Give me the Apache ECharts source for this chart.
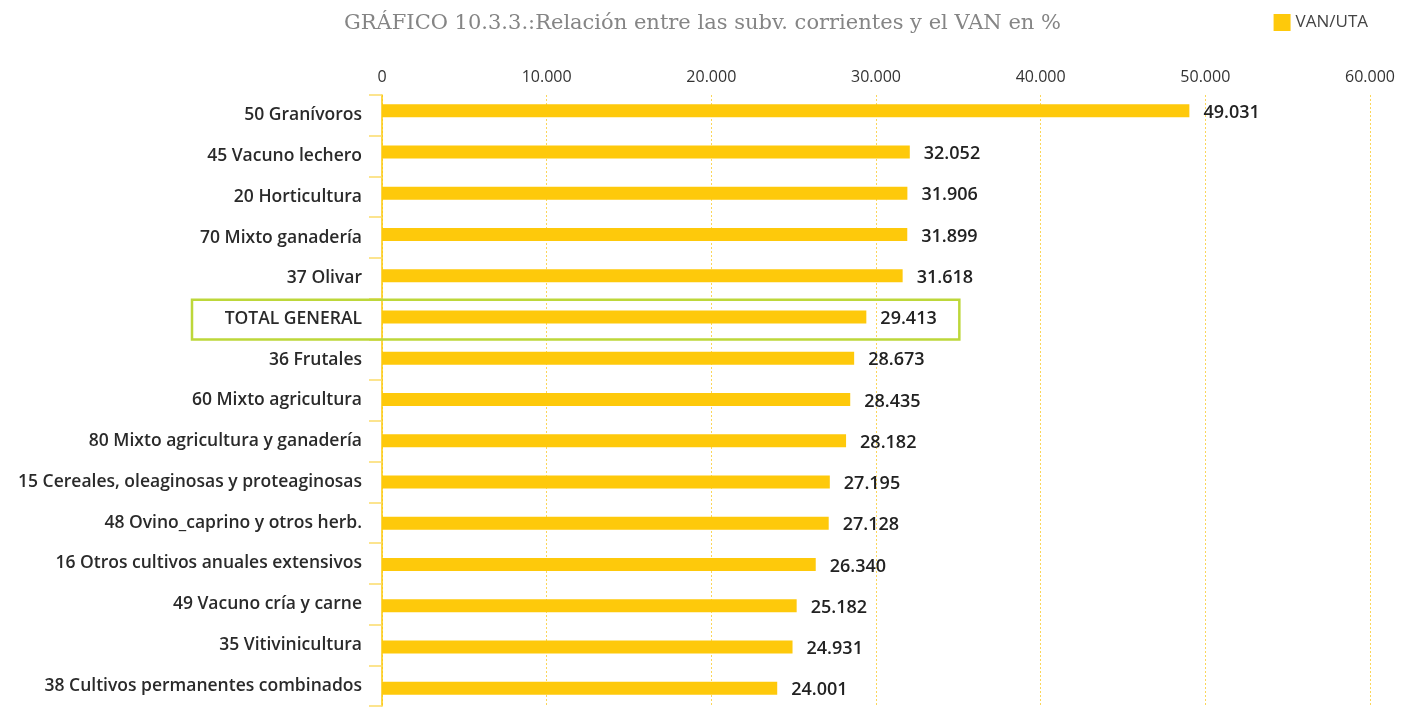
<!DOCTYPE html>
<html><head><meta charset="utf-8">
<script src="https://cdn.jsdelivr.net/npm/echarts@6/dist/echarts.min.js"></script>
<style>html,body{margin:0;padding:0;background:#fff}#c{width:1405px;height:709px}</style>
</head><body><div id="c"></div>
<script>
const categories = ["50 Granívoros","45 Vacuno lechero","20 Horticultura","70 Mixto ganadería","37 Olivar","TOTAL GENERAL","36 Frutales","60 Mixto agricultura","80 Mixto agricultura y ganadería","15 Cereales, oleaginosas y proteaginosas","48 Ovino_caprino y otros herb.","16 Otros cultivos anuales extensivos","49 Vacuno cría y carne","35 Vitivinicultura","38 Cultivos permanentes combinados"];
const vanUta = [49031,32052,31906,31899,31618,29413,28673,28435,28182,27195,27128,26340,25182,24931,24001];
const seriesName = "VAN/UTA";
const titleText = "GRÁFICO 10.3.3.:Relación entre las subv. corrientes y el VAN en %";
const highlightCategory = "TOTAL GENERAL";

const fmt = v => String(Math.round(v)).replace(/\B(?=(\d{3})+(?!\d))/g, ".");
const chart = echarts.init(document.getElementById('c'));
const option = {
  animation: false,
  title: { text: titleText, left: 'center', top: 8,
    textStyle: { fontFamily: 'DejaVu Serif', fontSize: 21, fontWeight: 'normal', color: '#858585' } },
  legend: { data: [seriesName], right: 32, top: 9, itemWidth: 17, itemHeight: 17, itemGap: 7,
    icon: 'rect', textStyle: { fontFamily: 'Open Sans', fontSize: 17, color: '#444' } },
  grid: [
    { left: 382, right: 35, top: 90, height: 621, containLabel: false },
    { left: 382, right: 35, top: 95, height: 611, containLabel: false }
  ],
  xAxis: [
    { type: 'value', gridIndex: 0, position: 'top', min: 0, max: 60000, interval: 10000,
      axisLine: { show: false }, axisTick: { show: false },
      axisLabel: { formatter: fmt, fontFamily: 'Open Sans', fontSize: 16, color: '#333', margin: 5 },
      splitLine: { show: false } },
    { type: 'value', gridIndex: 1, min: 0, max: 60000, interval: 10000,
      axisLine: { show: false }, axisTick: { show: false }, axisLabel: { show: false },
      splitLine: { show: true, lineStyle: { color: '#fbd65a', type: [2, 2], width: 1 } } }
  ],
  yAxis: [
    { type: 'category', gridIndex: 0, data: categories, inverse: true,
      axisLine: { show: false }, axisTick: { show: false }, axisLabel: { show: false } },
    { type: 'category', gridIndex: 1, data: categories, inverse: true,
      axisLine: { show: true, lineStyle: { color: '#fcc90b', width: 1.5 } },
      axisTick: { show: true, length: 13, lineStyle: { color: '#fcdb6a', width: 1.5 } },
      axisLabel: { fontFamily: 'Open Sans', fontSize: 17.5, fontWeight: 600, color: '#2a2a2a', margin: 20 } }
  ],
  series: [{ name: seriesName, type: 'bar', xAxisIndex: 0, yAxisIndex: 0, data: vanUta, barWidth: 13,
    itemStyle: { color: '#fec90b' }, z: 3,
    label: { show: true, position: 'right', distance: 14, formatter: p => fmt(p.value),
      fontFamily: 'Open Sans', fontSize: 18, fontWeight: 600, color: '#222', verticalAlign: 'top', lineHeight: 4 } }]
};
chart.setOption(option);

const idx = categories.indexOf(highlightCategory);
const yC = chart.convertToPixel({ yAxisIndex: 1 }, categories[idx]);
const yN = chart.convertToPixel({ yAxisIndex: 1 }, categories[idx + 1]);
const band = yN - yC;
const xEnd = chart.convertToPixel({ xAxisIndex: 0 }, vanUta[idx]);
chart.setOption({ graphic: [{ type: 'rect', z: 100, silent: true,
  shape: { x: 192, y: yC - band / 2 + 1, width: xEnd + 93 - 192, height: band - 1 },
  style: { fill: 'none', stroke: '#bdd73a', lineWidth: 2.5 } }] });
</script></body></html>
